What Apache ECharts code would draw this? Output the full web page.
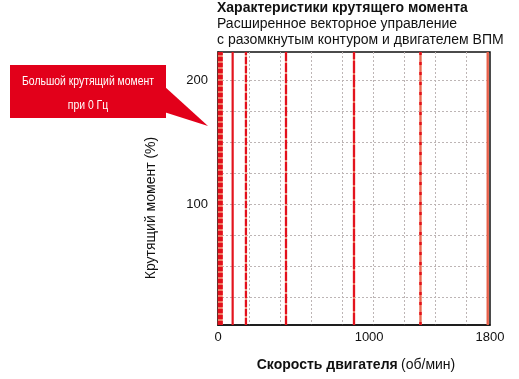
<!DOCTYPE html>
<html><head><meta charset="utf-8">
<script src="https://cdn.jsdelivr.net/npm/echarts@6/dist/echarts.min.js"></script>
<style>html,body{margin:0;padding:0;background:#fff}#c{width:519px;height:379px}</style>
</head><body><div id="c"></div>
<script>
// Speeds (rpm) at which torque was measured (0.5, 3, 6, 15, 30, 45, 60 Hz)
const speedRpm = [15, 97, 185, 450, 900, 1340, 1785];
// Torque range (%) covered by each measured vertical trace
const torqueLow = [3, 3, 3, 3, 3, 3, 3];
const torqueHigh = [223, 223, 223, 223, 223, 223, 223];
// Axis ranges and tick labels
const yMin = 3, yMax = 223;
const yGridValues = [25, 50, 75, 100, 125, 150, 175, 200];
const yLabelValues = [100, 200];
const xMin = 0, xMax = 1800;
const xGridValues = [205, 410, 615, 820, 1025, 1230, 1435, 1640];
const xLabelValues = [0, 1000, 1800];

const titleLines = ['Характеристики крутящего момента', 'Расширенное векторное управление', 'с разомкнутым контуром и двигателем ВПМ'];
const calloutLines = ['Большой крутящий момент', 'при 0 Гц'];
const yName = 'Крутящий момент (%)';
const xNameBold = 'Скорость двигателя', xNameUnit = '(об/мин)';

// drawing styles per trace (not data)
const traceStyle = [
  {base:'#f07a62', w:5, over:'#e3101c', dash:[4,2]},
  {base:'#e3141e', w:2.2, over:null},
  {base:'#f29a88', w:2.2, over:'#e3101c', dash:[7,2]},
  {base:'#f29a88', w:2.2, over:'#e3101c', dash:[9,2]},
  {base:'#f07a62', w:2.2, over:'#e3141e', dash:[12,2]},
  {base:'#ec6a50', w:2.4, over:'#e3101c', dash:[3,7]},
  {base:'#e8604a', w:2.4, over:null}
];

const series = [];
speedRpm.forEach((s, i) => {
  const st = traceStyle[i];
  const d = [[s, torqueLow[i]], [s, torqueHigh[i]]];
  series.push({type:'line', data:d, symbol:'none', silent:true, z:3,
    lineStyle:{color:st.base, width:st.w}});
  if (st.over) series.push({type:'line', data:d, symbol:'none', silent:true, z:4,
    lineStyle:{color:st.over, width:st.w, type:st.dash}});
});

const FONT = "'Liberation Sans', Arial, sans-serif";
const chart = echarts.init(document.getElementById('c'), null, {renderer:'canvas'});
chart.setOption({
  animation:false,
  backgroundColor:'#fff',
  grid:{left:218, right:29, top:52, bottom:54, show:true, borderColor:'#111', borderWidth:1.5, containLabel:false},
  xAxis:{type:'value', min:xMin, max:xMax,
    axisLine:{show:true, lineStyle:{color:'#111', width:1.5}},
    axisTick:{show:false, customValues:xGridValues},
    splitLine:{show:true, lineStyle:{color:'#bdb5b5', type:[2,2], width:1}},
    axisLabel:{customValues:xLabelValues, formatter:v => String(v), color:'#111', fontSize:13, fontFamily:FONT, margin:6}
  },
  yAxis:{type:'value', min:yMin, max:yMax,
    axisLine:{show:true, lineStyle:{color:'#111', width:1.5}},
    axisTick:{show:false, customValues:yGridValues},
    splitLine:{show:true, lineStyle:{color:'#bdb5b5', type:[2,2], width:1}},
    axisLabel:{customValues:yLabelValues, formatter:v => String(v), color:'#111', fontSize:13, fontFamily:FONT, margin:10}
  },
  series:series,
  graphic:[
    {type:'text', left:217, top:1, style:{text:titleLines[0], font:"bold 14px "+FONT, fill:'#111'}},
    {type:'text', left:217, top:17, style:{text:titleLines[1], font:"14px "+FONT, fill:'#111'}},
    {type:'text', left:217, top:33, style:{text:titleLines[2], font:"14px "+FONT, fill:'#111'}},
    {type:'polygon', shape:{points:[[164,86],[164,112],[208,126]]}, style:{fill:'#e2001a'}},
    {type:'rect', shape:{x:10, y:65, width:156, height:53}, style:{fill:'#e2001a'}},
    {type:'text', x:88, y:81, scaleX:0.8, style:{text:calloutLines[0], font:"13px "+FONT, fill:'#fff', align:'center', verticalAlign:'middle'}},
    {type:'text', x:88, y:105, scaleX:0.8, style:{text:calloutLines[1], font:"13px "+FONT, fill:'#fff', align:'center', verticalAlign:'middle'}},
    {type:'text', x:151, y:208, rotation:Math.PI/2, style:{text:yName, font:"14px "+FONT, fill:'#111', align:'center', verticalAlign:'middle'}},
    {type:'text', x:356, y:365, style:{rich:{b:{font:"bold 14px "+FONT, fill:'#111'}, r:{font:"14px "+FONT, fill:'#111'}}, text:'{b|'+xNameBold+'} {r|'+xNameUnit+'}', align:'center', verticalAlign:'middle'}}
  ]
});
</script></body></html>
